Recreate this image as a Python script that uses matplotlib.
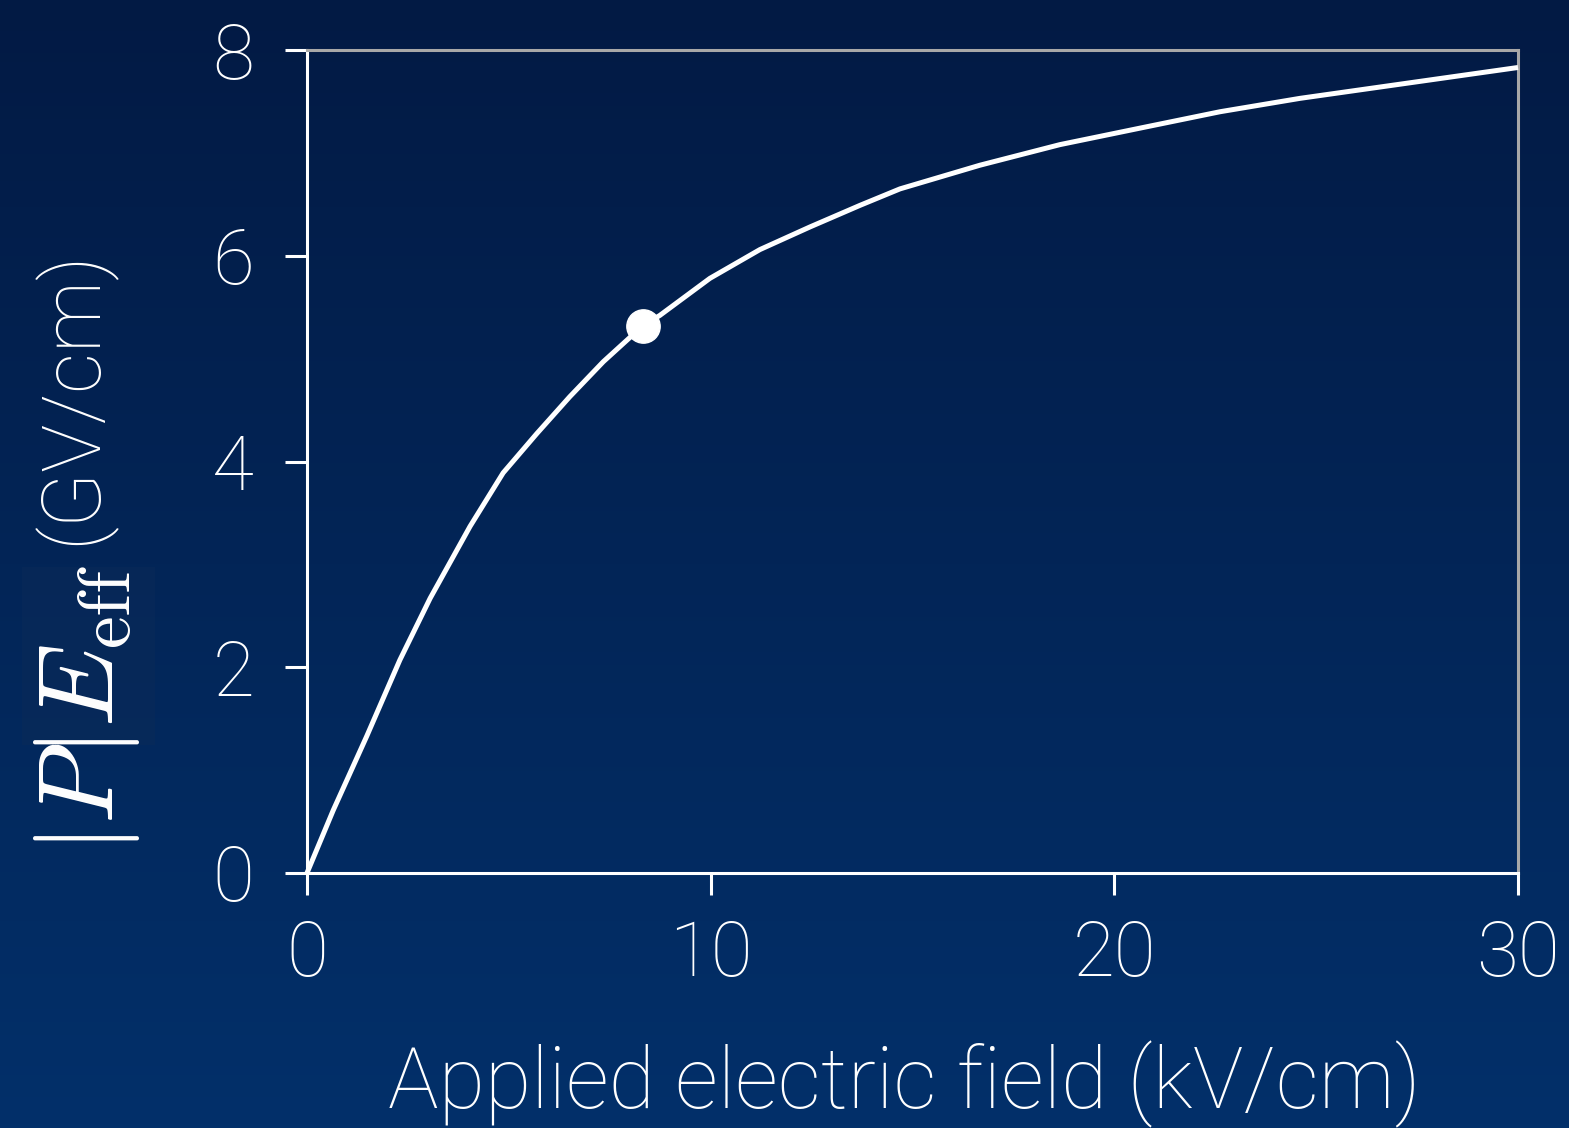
import numpy as np
import matplotlib.pyplot as plt
from matplotlib.colors import LinearSegmentedColormap
from matplotlib.patches import Rectangle

# --- Data ---
field_kv = [0.0, 0.65, 1.48, 2.30, 3.05, 4.04, 4.86, 5.69, 6.51, 7.34, 8.32,
            8.74, 9.98, 11.22, 12.46, 13.70, 14.69, 16.67, 18.65, 20.63,
            22.62, 24.60, 26.58, 30.0]
peff_gv = [0.0, 0.61, 1.33, 2.07, 2.67, 3.37, 3.89, 4.27, 4.63, 4.97, 5.32,
           5.42, 5.78, 6.06, 6.28, 6.49, 6.65, 6.88, 7.08, 7.24,
           7.40, 7.53, 7.64, 7.83]
marker_x = [8.32]
marker_y = [5.32]
x_ticks = [0, 10, 20, 30]
y_ticks = [0, 2, 4, 6, 8]

# --- Style ---
plt.rcParams["font.family"] = ["Roboto", "DejaVu Sans"]
plt.rcParams["font.weight"] = "light"
plt.rcParams["mathtext.fontset"] = "cm"
WHITE = "white"
GREY = "#a8a8a8"
W, H = 1569, 1128

fig = plt.figure(figsize=(W / 100, H / 100), dpi=100)

# gradient background
bg = fig.add_axes([0, 0, 1, 1], zorder=-10)
cmap = LinearSegmentedColormap.from_list("bg", ["#021a44", "#02306a"])
bg.imshow(np.linspace(0, 1, 256).reshape(-1, 1), aspect="auto", cmap=cmap,
          extent=[0, 1, 0, 1])
bg.set_xlim(0, 1)
bg.set_ylim(0, 1)
# faint box behind the rendered math in the y label
bg.add_patch(Rectangle((22 / W, 1 - 745 / H), 133 / W, 178 / H,
                       facecolor="#0a2a58", edgecolor="none", alpha=0.6))
bg.set_axis_off()

ax = fig.add_axes([307 / W, 1 - 873 / H, 1211 / W, 823 / H])
ax.patch.set_alpha(0)

ax.plot(field_kv, peff_gv, color=WHITE, lw=3.6, solid_capstyle="butt",
        solid_joinstyle="round", clip_on=False, zorder=3)
ax.plot(marker_x, marker_y, "o", color=WHITE, ms=24, zorder=4)

ax.set_xlim(0, 30)
ax.set_ylim(0, 8)
ax.set_xticks(x_ticks)
ax.set_yticks(y_ticks)

for side in ("left", "bottom"):
    ax.spines[side].set_color(WHITE)
    ax.spines[side].set_linewidth(2.2)
for side in ("top", "right"):
    ax.spines[side].set_color(GREY)
    ax.spines[side].set_linewidth(2.2)

ax.tick_params(axis="both", direction="out", length=16, width=2.2,
               colors=WHITE, labelsize=55)
ax.tick_params(axis="y", pad=22)
ax.tick_params(axis="x", pad=17)
for lab in ax.get_xticklabels() + ax.get_yticklabels():
    lab.set_fontweight("light")

ax.set_xlabel("Applied electric field (kV/cm)", fontsize=61, color=WHITE,
              fontweight="light")
ax.xaxis.set_label_coords((904 - 307) / 1211, (873 - 1041) / 823)

# y label: math part and unit part
fig.text(87 / W, 1 - 709 / H, r"$|P|E_{\rm eff}$", rotation=90, fontsize=76,
         color=WHITE, ha="center", va="center")
fig.text(72 / W, 1 - 397 / H, "(GV/cm)", rotation=90, fontsize=58,
         color=WHITE, fontweight="light", ha="center", va="center")

fig.savefig("out.png", dpi=100)
